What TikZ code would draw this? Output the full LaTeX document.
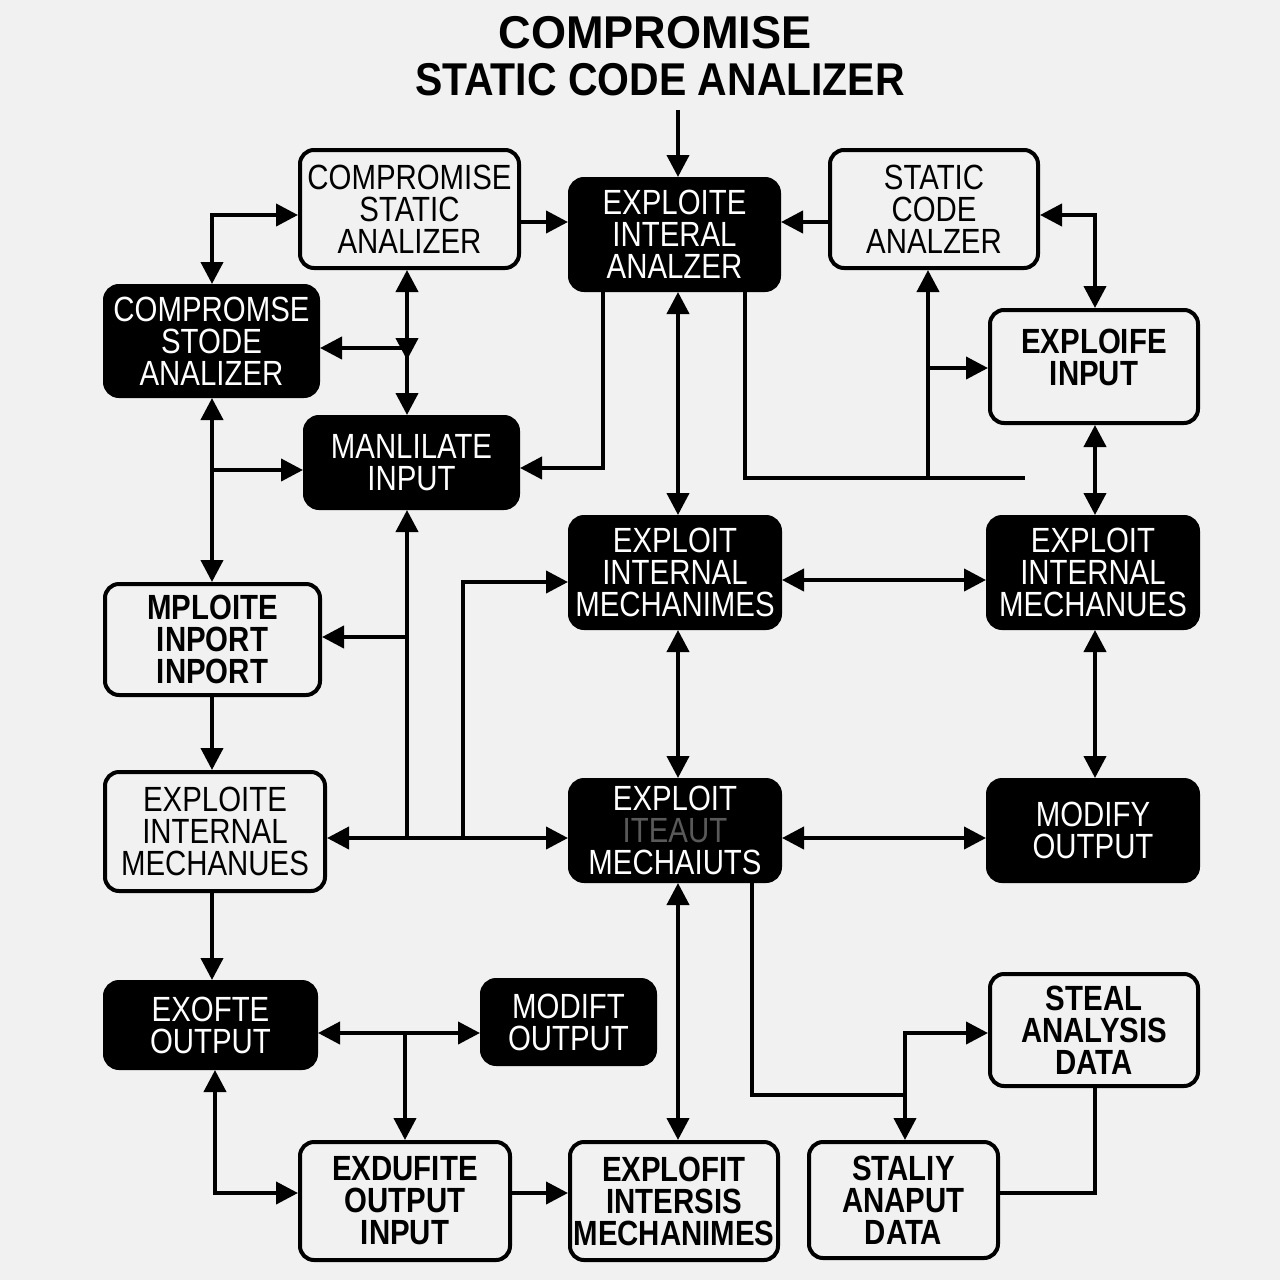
\documentclass[tikz,border=0pt]{standalone}
\usepackage{fontspec}
\setmainfont{Liberation Sans}
\newfontfamily\boxfont[FakeStretch=0.84]{Liberation Sans}
\newfontfamily\titlefontA[FakeStretch=0.98]{Liberation Sans}
\newfontfamily\titlefontB[FakeStretch=0.89]{Liberation Sans}
\usetikzlibrary{arrows.meta}
\definecolor{bg}{RGB}{241,241,241}
\begin{document}
\begin{tikzpicture}[x=1pt,y=-1pt,
  basebox/.style={draw=black, line width=4pt, rounded corners=14pt, align=center, inner sep=0pt,
     font=\boxfont\fontsize{35}{32}\selectfont},
  wbox/.style={basebox, fill=bg, text=black},
  wboxb/.style={basebox, fill=bg, text=black, font=\boxfont\bfseries\fontsize{35}{32}\selectfont},
  bbox/.style={basebox, fill=black, text=white},
  sz/.style 2 args={minimum width=#1pt, minimum height=#2pt},
  con/.style={line width=4pt},
  arr/.style={con, -{Triangle[length=22pt,width=22pt]}},
  dbl/.style={con, {Triangle[length=22pt,width=22pt]}-{Triangle[length=22pt,width=22pt]}},
  ttl/.style={inner sep=0pt}
]
\fill[bg] (0,0) rectangle (1280,1280);
\useasboundingbox (0,0) rectangle (1280,1280);

% title
\node[ttl, font=\titlefontA\bfseries\fontsize{46}{46}\selectfont] (title1) at (655,33) {COMPROMISE};
\node[ttl, font=\titlefontB\bfseries\fontsize{46}{46}\selectfont] (title2) at (660,80) {STATIC CODE ANALIZER};
\coordinate (t0) at (678,110);

% boxes
\node[wbox, sz={219}{118}] (b1) at (409.5,209) {COMPROMISE\\STATIC\\ANALIZER};
\node[bbox, sz={209}{111}] (b2) at (674.5,234.5) {EXPLOITE\\INTERAL\\ANALZER};
\node[wbox, sz={208}{118}] (b3) at (934,209) {STATIC\\CODE\\ANALZER};
\node[bbox, sz={213}{110}] (b4) at (211.5,341) {COMPROMSE\\STODE\\ANALIZER};
\node[bbox, sz={213}{91}] (b5) at (411.5,462.5) {MANLILATE\\INPUT};
\node[wboxb, sz={208}{113}] (b6) at (1094,366.5) {};
\node[font=\boxfont\bfseries\fontsize{35}{32}\selectfont, align=center, inner sep=0pt] (b6t) at (1094,357) {EXPLOIFE\\INPUT};
\node[bbox, sz={210}{111}] (b7) at (675,572.5) {EXPLOIT\\INTERNAL\\MECHANIMES};
\node[bbox, sz={210}{111}] (b8) at (1093,572.5) {EXPLOIT\\INTERNAL\\MECHANUES};
\node[wboxb, sz={215}{111}] (b9) at (212.5,639.5) {MPLOITE\\INPORT\\INPORT};
\node[wbox, sz={220}{119}] (b10) at (215,831.5) {EXPLOITE\\INTERNAL\\MECHANUES};
\node[bbox, sz={210}{101}] (b11) at (675,830.5) {EXPLOIT\\\textcolor{black!65}{ITEAUT}\\MECHAIUTS};
\node[bbox, sz={210}{101}] (b12) at (1093,830.5) {MODIFY\\OUTPUT};
\node[bbox, sz={211}{86}] (b13) at (210.5,1025) {EXOFTE\\OUTPUT};
\node[bbox, sz={173}{84}] (b14) at (568.5,1022) {MODIFT\\OUTPUT};
\node[wboxb, sz={208}{112}] (b15) at (1094,1030) {STEAL\\ANALYSIS\\DATA};
\node[wboxb, sz={210}{118}] (b16) at (405,1201) {EXDUFITE\\OUTPUT\\INPUT};
\node[wboxb, sz={208}{118}] (b17) at (674,1201) {EXPLOFIT\\INTERSIS\\MECHANIMES};
\node[wboxb, sz={189}{116}] (b18) at (903.5,1200) {STALIY\\ANAPUT\\DATA};

% junction coordinates
\coordinate (j1) at (407,348);
\coordinate (j2) at (212,470);
\coordinate (j3) at (928,478);
\coordinate (j4) at (928,368);
\coordinate (e1) at (1025,478);
\coordinate (j5) at (407,838);
\coordinate (j6) at (463,838);
\coordinate (j7) at (407,637);
\coordinate (j8) at (405,1033);
\coordinate (j9) at (905,1095);

% connectors
\draw[arr] (t0) -- (t0 |- b2.north);
\draw[arr] (b1.east |- 0,222) -- (b2.west |- 0,222);
\draw[arr] (b3.west |- 0,222) -- (b2.east |- 0,222);
\draw[dbl] (b4.north -| 212,0) |- (b1.west |- 0,215);
\draw[dbl] (b3.east |- 0,215) -| (b6.north -| 1095,0);
\draw[dbl] (b1.south -| 407,0) -- (b5.north -| 407,0);
\draw[arr] (407,328) -- (407,360);
\draw[arr] (j1) -- (b4.east |- j1);
\draw[dbl] (b4.south -| 212,0) -- (b9.north -| 212,0);
\draw[arr] (j2) -- (b5.west |- j2);
\draw[arr] (b2.south -| 603,0) |- (b5.east |- 0,468);
\draw[dbl] (b2.south -| 678,0) -- (b7.north -| 678,0);
\draw[con] (b2.south -| 745,0) |- (e1);
\draw[arr] (j3) -- (b3.south -| j3);
\draw[arr] (j4) -- (b6.west |- j4);
\draw[dbl] (b6.south -| 1095,0) -- (b8.north -| 1095,0);
\draw[dbl] (b7.east |- 0,580) -- (b8.west |- 0,580);
\draw[dbl] (b7.south -| 678,0) -- (b11.north -| 678,0);
\draw[dbl] (b8.south -| 1095,0) -- (b12.north -| 1095,0);
\draw[dbl] (b11.east |- 0,838) -- (b12.west |- 0,838);
\draw[dbl] (b10.east |- j5) -- (b11.west |- j5);
\draw[arr] (j5) -- (b5.south -| j5);
\draw[arr] (j6) |- (b7.west |- 0,582);
\draw[arr] (j7) -- (b9.east |- j7);
\draw[arr] (b9.south -| 212,0) -- (b10.north -| 212,0);
\draw[arr] (b10.south -| 212,0) -- (b13.north -| 212,0);
\draw[dbl] (b13.east |- j8) -- (b14.west |- j8);
\draw[arr] (j8) -- (b16.north -| j8);
\draw[dbl] (b13.south -| 215,0) |- (b16.west |- 0,1193);
\draw[arr] (b16.east |- 0,1193) -- (b17.west |- 0,1193);
\draw[dbl] (b11.south -| 678,0) -- (b17.north -| 678,0);
\draw[con] (b11.south -| 752,0) |- (j9);
\draw[dbl] (b18.north -| 905,0) |- (b15.west |- 0,1033);
\draw[con] (b18.east |- 0,1193) -| (b15.south -| 1095,0);
\end{tikzpicture}
\end{document}
